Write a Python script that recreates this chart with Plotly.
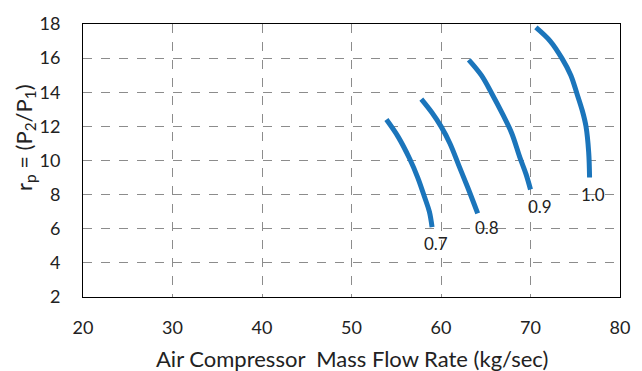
import plotly.graph_objects as go

# Compressor speed lines (relative speed) on the map
speeds = ["0.7", "0.8", "0.9", "1.0"]
flow = [
    [53.9, 55.2, 56.5, 57.4, 58.2, 58.7, 59.0],
    [57.8, 59.0, 60.0, 61.0, 62.0, 63.0, 64.1],
    [63.1, 64.5, 65.7, 66.9, 67.9, 68.8, 69.5, 70.0],
    [70.6, 72.2, 73.5, 74.5, 75.2, 75.8, 76.2, 76.5, 76.6],
]
ratio = [
    [12.4, 11.4, 10.1, 9.0, 7.8, 7.0, 6.1],
    [13.6, 12.8, 12.0, 11.0, 9.7, 8.4, 6.9],
    [15.9, 15.0, 13.9, 12.7, 11.6, 10.2, 9.2, 8.3],
    [17.8, 17.0, 16.0, 15.0, 13.9, 12.9, 12.0, 10.5, 9.0],
]
# label offsets (px) from the end of each speed line
label_dx = [4, 9, 9, 3]
label_dy = [16, 14, 17, 17]

x_title = "Air Compressor  Mass Flow Rate (kg/sec)"
y_title = "r<sub>p</sub> = (P<sub>2</sub>/P<sub>1</sub>)"

fig = go.Figure()
for s, x, y in zip(speeds, flow, ratio):
    fig.add_trace(go.Scatter(
        x=x, y=y, mode="lines", name=s,
        line=dict(color="#1b75bb", width=5, shape="spline", smoothing=1.0),
        showlegend=False,
    ))

for s, x, y, dx, dy in zip(speeds, flow, ratio, label_dx, label_dy):
    fig.add_annotation(
        x=x[-1], y=y[-1], text=s, showarrow=False,
        xshift=dx, yshift=-dy,
        font=dict(size=17, color="#222222"),
    )

# axis titles
fig.add_annotation(
    xref="paper", yref="paper", x=0.5, y=0, yshift=-61,
    text=x_title, showarrow=False, yanchor="middle",
    font=dict(size=22, color="#222222"),
)
fig.add_annotation(
    xref="paper", yref="paper", x=0, xshift=-58, y=0.582,
    text=y_title, showarrow=False, textangle=-90,
    xanchor="center", yanchor="middle",
    font=dict(size=22, color="#222222"),
)

axis_common = dict(
    showgrid=True, gridcolor="#8c8c8c", griddash="dash", gridwidth=1,
    showline=True, linecolor="#000000", linewidth=1, mirror=True,
    ticks="", zeroline=False,
    tickfont=dict(size=18, color="#222222"),
)

fig.update_layout(
    width=642, height=371,
    margin=dict(l=83, r=21, t=18, b=74),
    paper_bgcolor="white", plot_bgcolor="white",
    font=dict(family="Lato, Open Sans, sans-serif", color="#222222"),
    xaxis=dict(range=[20, 80], dtick=10, ticklabelstandoff=14, **axis_common),
    yaxis=dict(range=[2, 18], dtick=2, ticklabelstandoff=18, **axis_common),
)

fig.write_html("out.html")
